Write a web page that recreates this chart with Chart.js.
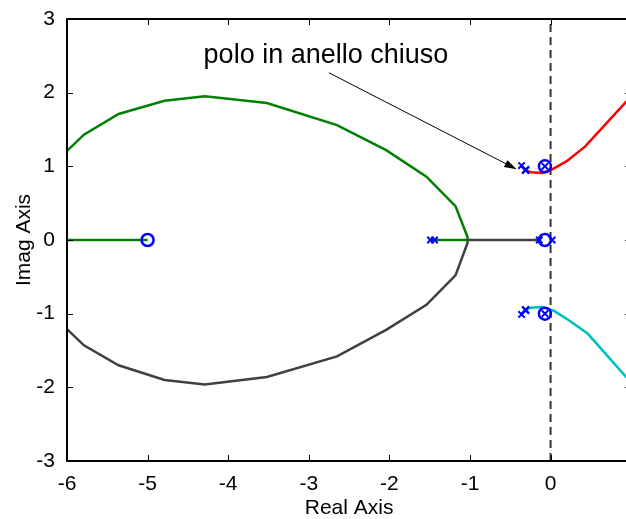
<!DOCTYPE html>
<html>
<head>
<meta charset="utf-8">
<script src="https://cdn.jsdelivr.net/npm/chart.js@4"></script>
<style>
  body { margin: 0; background: #fff; }
  #wrap { width: 626px; height: 519px; overflow: hidden; }
</style>
</head>
<body>
<div id="wrap"><canvas id="locusChart" width="640" height="519"></canvas></div>
<script>
// tick labels
const xTicks = [-6, -5, -4, -3, -2, -1, 0, 1];
const yTicks = [-3, -2, -1, 0, 1, 2, 3];

// complex branch (upper, green) and its mirror (lower, dark gray)
const greenArcRe = [-6.2, -6.0, -5.79, -5.36, -4.79, -4.29, -3.52, -2.65, -2.04, -1.54, -1.18, -1.03, -1.03];
const greenArcIm = [1.00, 1.21, 1.43, 1.71, 1.89, 1.95, 1.86, 1.56, 1.22, 0.86, 0.46, 0.04, 0];
const grayArcRe = [-6.2, -6.0, -5.79, -5.36, -4.79, -4.29, -3.52, -2.65, -2.04, -1.54, -1.18, -1.03, -1.03];
const grayArcIm = [-1.00, -1.21, -1.43, -1.70, -1.90, -1.96, -1.86, -1.58, -1.22, -0.88, -0.48, -0.04, 0];

// real axis segments
const greenLeftRe = [-6.2, -5.0];
const greenLeftIm = [0, 0];
const greenPoleRe = [-1.47, -1.03];
const greenPoleIm = [0, 0];
const grayRealRe = [-1.03, -0.12];
const grayRealIm = [0, 0];

// branches near the imaginary axis
const redRe = [-0.36, -0.31, -0.25, -0.10, 0.02, 0.20, 0.43, 1.05];
const redIm = [1.00, 0.95, 0.92, 0.91, 0.96, 1.07, 1.27, 2.01];
const cyanRe = [-0.36, -0.31, -0.25, -0.10, 0.04, 0.20, 0.46, 1.05];
const cyanIm = [-1.00, -0.95, -0.92, -0.91, -0.96, -1.07, -1.27, -2.00];

// open loop poles / zeros, closed loop poles
const poleRe = [-0.36, -0.36, -1.49, -1.44, 0.02, -0.14, -0.07, -0.07];
const poleIm = [1.01, -1.01, 0, 0, 0, 0, 1.0, -1.0];
const zeroRe = [-5.0, -0.07, -0.07, -0.07];
const zeroIm = [0, 1.0, -1.0, 0];
const closedRe = [-0.31, -0.31];
const closedIm = [0.95, -0.95];

const imAxisRe = [0, 0];
const imAxisIm = [-3, 3];

const noteText = 'polo in anello chiuso';

const pts = (re, im) => re.map((x, i) => ({ x: x, y: im[i] }));

function line(re, im, color) {
    return {
        data: pts(re, im),
        showLine: true,
        borderColor: color,
        borderWidth: 2.5,
        pointRadius: 0
    };
}

// frame with inward ticks, like matlab
const frameTicks = {
    id: 'frameTicks',
    afterDatasetsDraw(chart) {
        const { ctx, chartArea: a, scales: { x, y } } = chart;
        ctx.save();
        ctx.strokeStyle = '#000';
        ctx.lineWidth = 1;
        ctx.beginPath();
        xTicks.forEach(v => {
            const px = Math.round(x.getPixelForValue(v)) + 0.5;
            ctx.moveTo(px, a.bottom); ctx.lineTo(px, a.bottom - 6);
            ctx.moveTo(px, a.top); ctx.lineTo(px, a.top + 6);
        });
        yTicks.forEach(v => {
            const py = Math.round(y.getPixelForValue(v)) + 0.5;
            ctx.moveTo(a.left, py); ctx.lineTo(a.left + 6, py);
            ctx.moveTo(a.right, py); ctx.lineTo(a.right - 6, py);
        });
        ctx.stroke();
        ctx.lineWidth = 2;
        ctx.strokeRect(a.left, a.top, a.right - a.left, a.bottom - a.top);
        ctx.restore();
    },
    afterDraw(chart) {
        const { ctx, scales: { x, y } } = chart;
        ctx.save();
        ctx.fillStyle = '#000';
        ctx.font = '27px "Liberation Sans", Arial, sans-serif';
        ctx.textBaseline = 'alphabetic';
        ctx.fillText(noteText, x.getPixelForValue(-4.305), y.getPixelForValue(2.405));

        // arrow
        const x0 = x.getPixelForValue(-2.75), y0 = y.getPixelForValue(2.27);
        const x1 = x.getPixelForValue(-0.42), y1 = y.getPixelForValue(0.96);
        const ang = Math.atan2(y1 - y0, x1 - x0);
        ctx.strokeStyle = '#000';
        ctx.lineWidth = 1;
        ctx.beginPath();
        ctx.moveTo(x0, y0);
        ctx.lineTo(x1 - 10 * Math.cos(ang), y1 - 10 * Math.sin(ang));
        ctx.stroke();
        ctx.beginPath();
        ctx.moveTo(x1, y1);
        ctx.lineTo(x1 - 13 * Math.cos(ang - 0.3), y1 - 13 * Math.sin(ang - 0.3));
        ctx.lineTo(x1 - 13 * Math.cos(ang + 0.3), y1 - 13 * Math.sin(ang + 0.3));
        ctx.closePath();
        ctx.fill();
        ctx.restore();
    }
};

const tickFont = { family: '"Liberation Sans", Arial, sans-serif', size: 21 };
const titleFont = { family: '"Liberation Sans", Arial, sans-serif', size: 21, lineHeight: 1 };

new Chart(document.getElementById('locusChart'), {
    type: 'scatter',
    data: {
        datasets: [
            {
                data: pts(closedRe, closedIm),
                pointStyle: 'crossRot', pointRadius: 5, pointBorderWidth: 2.5,
                borderColor: '#0000ff'
            },
            {
                data: pts(poleRe, poleIm),
                pointStyle: 'crossRot', pointRadius: 4.5, pointBorderWidth: 2,
                borderColor: '#0000ff'
            },
            {
                data: pts(zeroRe, zeroIm),
                pointStyle: 'circle', pointRadius: 6, pointBorderWidth: 2.5,
                borderColor: '#0000ff', backgroundColor: 'rgba(0,0,0,0)'
            },
            line(redRe, redIm, '#ff0000'),
            line(cyanRe, cyanIm, '#00bfbf'),
            line(grayRealRe, grayRealIm, '#404040'),
            line(greenPoleRe, greenPoleIm, '#008000'),
            line(greenLeftRe, greenLeftIm, '#008000'),
            line(grayArcRe, grayArcIm, '#404040'),
            line(greenArcRe, greenArcIm, '#008000'),
            {
                data: pts(imAxisRe, imAxisIm),
                showLine: true, borderColor: '#333333', borderWidth: 2,
                borderDash: [8, 5], pointRadius: 0
            }
        ]
    },
    options: {
        responsive: false,
        animation: false,
        layout: { padding: { top: 19, right: 8, left: 0, bottom: 0 } },
        plugins: {
            legend: { display: false },
            tooltip: { enabled: false }
        },
        scales: {
            x: {
                type: 'linear', min: -6, max: 1,
                afterBuildTicks: s => { s.ticks = xTicks.map(v => ({ value: v })); },
                afterFit: s => { s.height = 58; },
                grid: { display: false },
                border: { display: false },
                ticks: { font: tickFont, color: '#000', padding: 3, maxRotation: 0 },
                title: { display: true, text: 'Real Axis', font: titleFont, color: '#000', padding: { top: 0, bottom: 0 } }
            },
            y: {
                type: 'linear', min: -3, max: 3,
                afterBuildTicks: s => { s.ticks = yTicks.map(v => ({ value: v })); },
                afterFit: s => { s.width = 67; },
                grid: { display: false },
                border: { display: false },
                ticks: { font: tickFont, color: '#000', padding: 4 },
                title: { display: true, text: 'Imag Axis', font: titleFont, color: '#000', padding: { top: 14, bottom: 0 } }
            }
        }
    },
    plugins: [frameTicks]
});
</script>
</body>
</html>
